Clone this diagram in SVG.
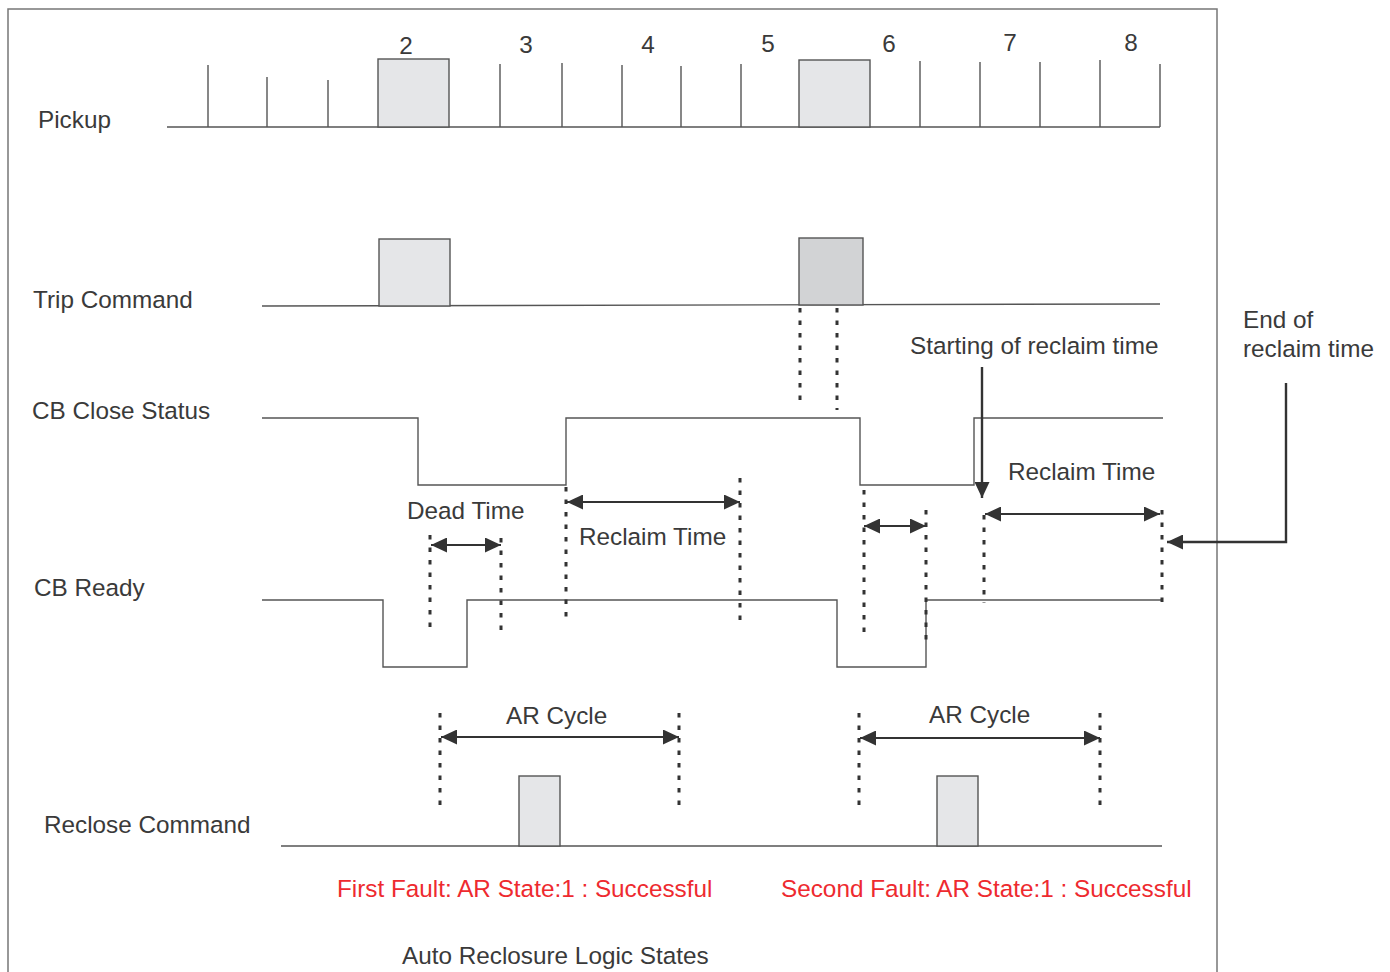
<svg xmlns="http://www.w3.org/2000/svg" width="1390" height="972" viewBox="0 0 1390 972">
<style>
text{font-family:"Liberation Sans",Arial,sans-serif;font-size:24.3px;fill:#3a3a3a}
.red{fill:#ee2a2f}
.sig{fill:none;stroke:#555;stroke-width:1.4}
.box{fill:#e5e6e8;stroke:#555;stroke-width:1.4}
.box2{fill:#d2d3d5;stroke:#555;stroke-width:1.4}
.dot{fill:none;stroke:#333;stroke-width:3;stroke-dasharray:4.5 8}
.arr{fill:none;stroke:#333;stroke-width:1.8;marker-start:url(#ah);marker-end:url(#ah)}
.ptr{fill:none;stroke:#333;stroke-width:2.4;marker-end:url(#ah2)}
</style>
<defs>
<marker id="ah" markerUnits="userSpaceOnUse" markerWidth="17" markerHeight="15" refX="16" refY="7.5" orient="auto-start-reverse"><path d="M0,0 L16,7.5 L0,15 Z" fill="#333"/></marker>
<marker id="ah2" markerUnits="userSpaceOnUse" markerWidth="17" markerHeight="15" refX="16" refY="7.5" orient="auto"><path d="M0,0 L16,7.5 L0,15 Z" fill="#333"/></marker>
</defs>
<rect width="1390" height="972" fill="#fff"/>
<path d="M8,972 V9 H1217 V972" fill="none" stroke="#777" stroke-width="1.5"/>

<g id="pickup">
<text x="38" y="128">Pickup</text>
<path class="sig" d="M167,127 H1160 M208,127 V65 M267,127 V77 M328,127 V80 M500,127 V64 M562,127 V63 M622,127 V65 M681,127 V66 M741,127 V64 M920,127 V61 M980,127 V62 M1040,127 V62 M1100,127 V60 M1160,127 V64"/>
<rect class="box" x="378" y="59" width="71" height="68"/>
<rect class="box" x="799" y="60" width="71" height="67"/>
<text x="406" y="54" text-anchor="middle">2</text>
<text x="526" y="53" text-anchor="middle">3</text>
<text x="648" y="53" text-anchor="middle">4</text>
<text x="768" y="52" text-anchor="middle">5</text>
<text x="889" y="52" text-anchor="middle">6</text>
<text x="1010" y="51" text-anchor="middle">7</text>
<text x="1131" y="51" text-anchor="middle">8</text>
</g>

<g id="trip-command">
<text x="33" y="308">Trip Command</text>
<path class="sig" d="M262,306 L1160,304"/>
<rect class="box" x="379" y="239" width="71" height="67"/>
<rect class="box2" x="799" y="238" width="64" height="67"/>
</g>

<g id="cb-close-status">
<text x="32" y="419">CB Close Status</text>
<path class="sig" d="M262,418 H418 V485 H566 V418 H860 V485 H974 V418 H1163"/>
</g>

<g id="cb-ready">
<text x="34" y="596">CB Ready</text>
<path class="sig" d="M262,600 H383 V667 H467 V600 H837 V667 H926 V600 H1162"/>
</g>

<g id="reclose-command">
<text x="44" y="833">Reclose Command</text>
<path class="sig" d="M281,846 H1162"/>
<rect class="box" x="519" y="776" width="41" height="70"/>
<rect class="box" x="937" y="776" width="41" height="70"/>
</g>

<g id="labels">
<text x="407" y="519">Dead Time</text>
<text x="579" y="545">Reclaim Time</text>
<text x="1008" y="480">Reclaim Time</text>
<text x="910" y="354">Starting of reclaim time</text>
<text x="1243" y="328">End of</text>
<text x="1243" y="357">reclaim time</text>
<text x="506" y="724">AR Cycle</text>
<text x="929" y="723">AR Cycle</text>
<text class="red" x="337" y="897">First Fault: AR State:1 : Successful</text>
<text class="red" x="781" y="897">Second Fault: AR State:1 : Successful</text>
<text x="402" y="964">Auto Reclosure Logic States</text>
</g>

<g id="connectors">
<path class="dot" d="M800,308 V405 M837,308 V410"/>
<path class="dot" d="M430,535 V632 M501,538 V636 M566,487 V622 M740,478 V625 M864,490 V638 M926,510 V645 M984,515 V603 M1162,510 V607"/>
<path class="dot" d="M440,713 V812 M679,713 V812 M859,713 V812 M1100,713 V812"/>
<path class="arr" d="M431,545 H501"/>
<path class="arr" d="M567,502 H740"/>
<path class="arr" d="M864,526 H926"/>
<path class="arr" d="M985,514 H1160"/>
<path class="arr" d="M441,737 H679"/>
<path class="arr" d="M860,738 H1100"/>
<path class="ptr" d="M982,367 V498"/>
<path class="ptr" d="M1286,383 V542 H1167"/>
</g>
</svg>
